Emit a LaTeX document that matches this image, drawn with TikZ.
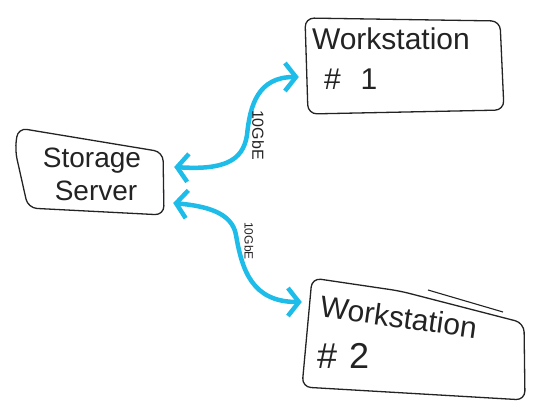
\documentclass[tikz,border=0pt]{standalone}
\usepackage{fontspec}
\setmainfont{Liberation Sans}
\usepackage{xcolor}
\usepackage{tikz}
\usetikzlibrary{arrows.meta}
\definecolor{linkcyan}{RGB}{30, 188, 232}
\definecolor{penblack}{RGB}{35, 35, 35}
\tikzset{
	box/.style={inner sep=9pt, text=penblack, font=\fontsize{29}{36}\selectfont},
	outline/.style={draw=penblack, line width=1.3pt, rounded corners=9pt, line join=round},
	link/.style={linkcyan, line width=4.5pt, line cap=round, line join=round,
		{Straight Barb[length=11pt,width=28pt]}-{Straight Barb[length=11pt,width=28pt]}},
	speed/.style={rotate=-90, text=penblack}
}

\begin{document}
\begin{tikzpicture}[x=1pt, y=-1pt]
	\useasboundingbox (0,0) rectangle (547,415);
	\node[box, font=\fontsize{28}{33}\selectfont, minimum width=150pt, minimum height=86pt, align=center] (srv) at (92,174) {Storage\\\hspace*{8pt}Server};
	\node[box, font=\fontsize{30}{40}\selectfont, minimum width=200pt, minimum height=98pt, text width=182pt, align=left] (ws1) at (403,59) {Workstation\\\hspace*{12pt}\#\hspace{20pt}1};
	\node[box, font=\fontsize{30}{36}\selectfont, minimum width=220pt, minimum height=115pt, text width=200pt, align=left] (ws2) at (413,332) {\hspace*{6pt}\rotatebox{-8}{Workstation}\\[4pt]{\fontsize{36}{36}\selectfont\hspace*{4pt}\#\hspace{12pt}2}};

	% hand drawn outlines
	\draw[outline] (18,128) -- (163,152) -- (164,215) -- (28,208) -- (15,150) -- cycle;
	\draw[outline] (305,18) -- (500,21) -- (504,110) -- (308,114) -- cycle;
	\draw[outline] (312,278) -- (400,291) -- (524,323) -- (525,400) -- (302,387) -- cycle;
	\draw[penblack, line width=1.1pt] (428,290) -- (503,312);

	% links
	\draw[link] ([shift={(7,-7)}]srv.east) .. controls (222,170) and (243,162) .. (247,135)
		.. controls (250,105) and (258,77) .. ([shift={(-4,18)}]ws1.west);
	\draw[link] ([shift={(6,29)}]srv.east) .. controls (205,206) and (232,212) .. (236,235)
		.. controls (242,270) and (252,302) .. ([shift={(-1,-30)}]ws2.west);
	\node[speed, font=\fontsize{16}{16}\selectfont] (bw1) at (258,135) {10GbE};
	\node[speed, font=\fontsize{12}{12}\selectfont] (bw2) at (249,241) {10GbE};
\end{tikzpicture}
\end{document}
